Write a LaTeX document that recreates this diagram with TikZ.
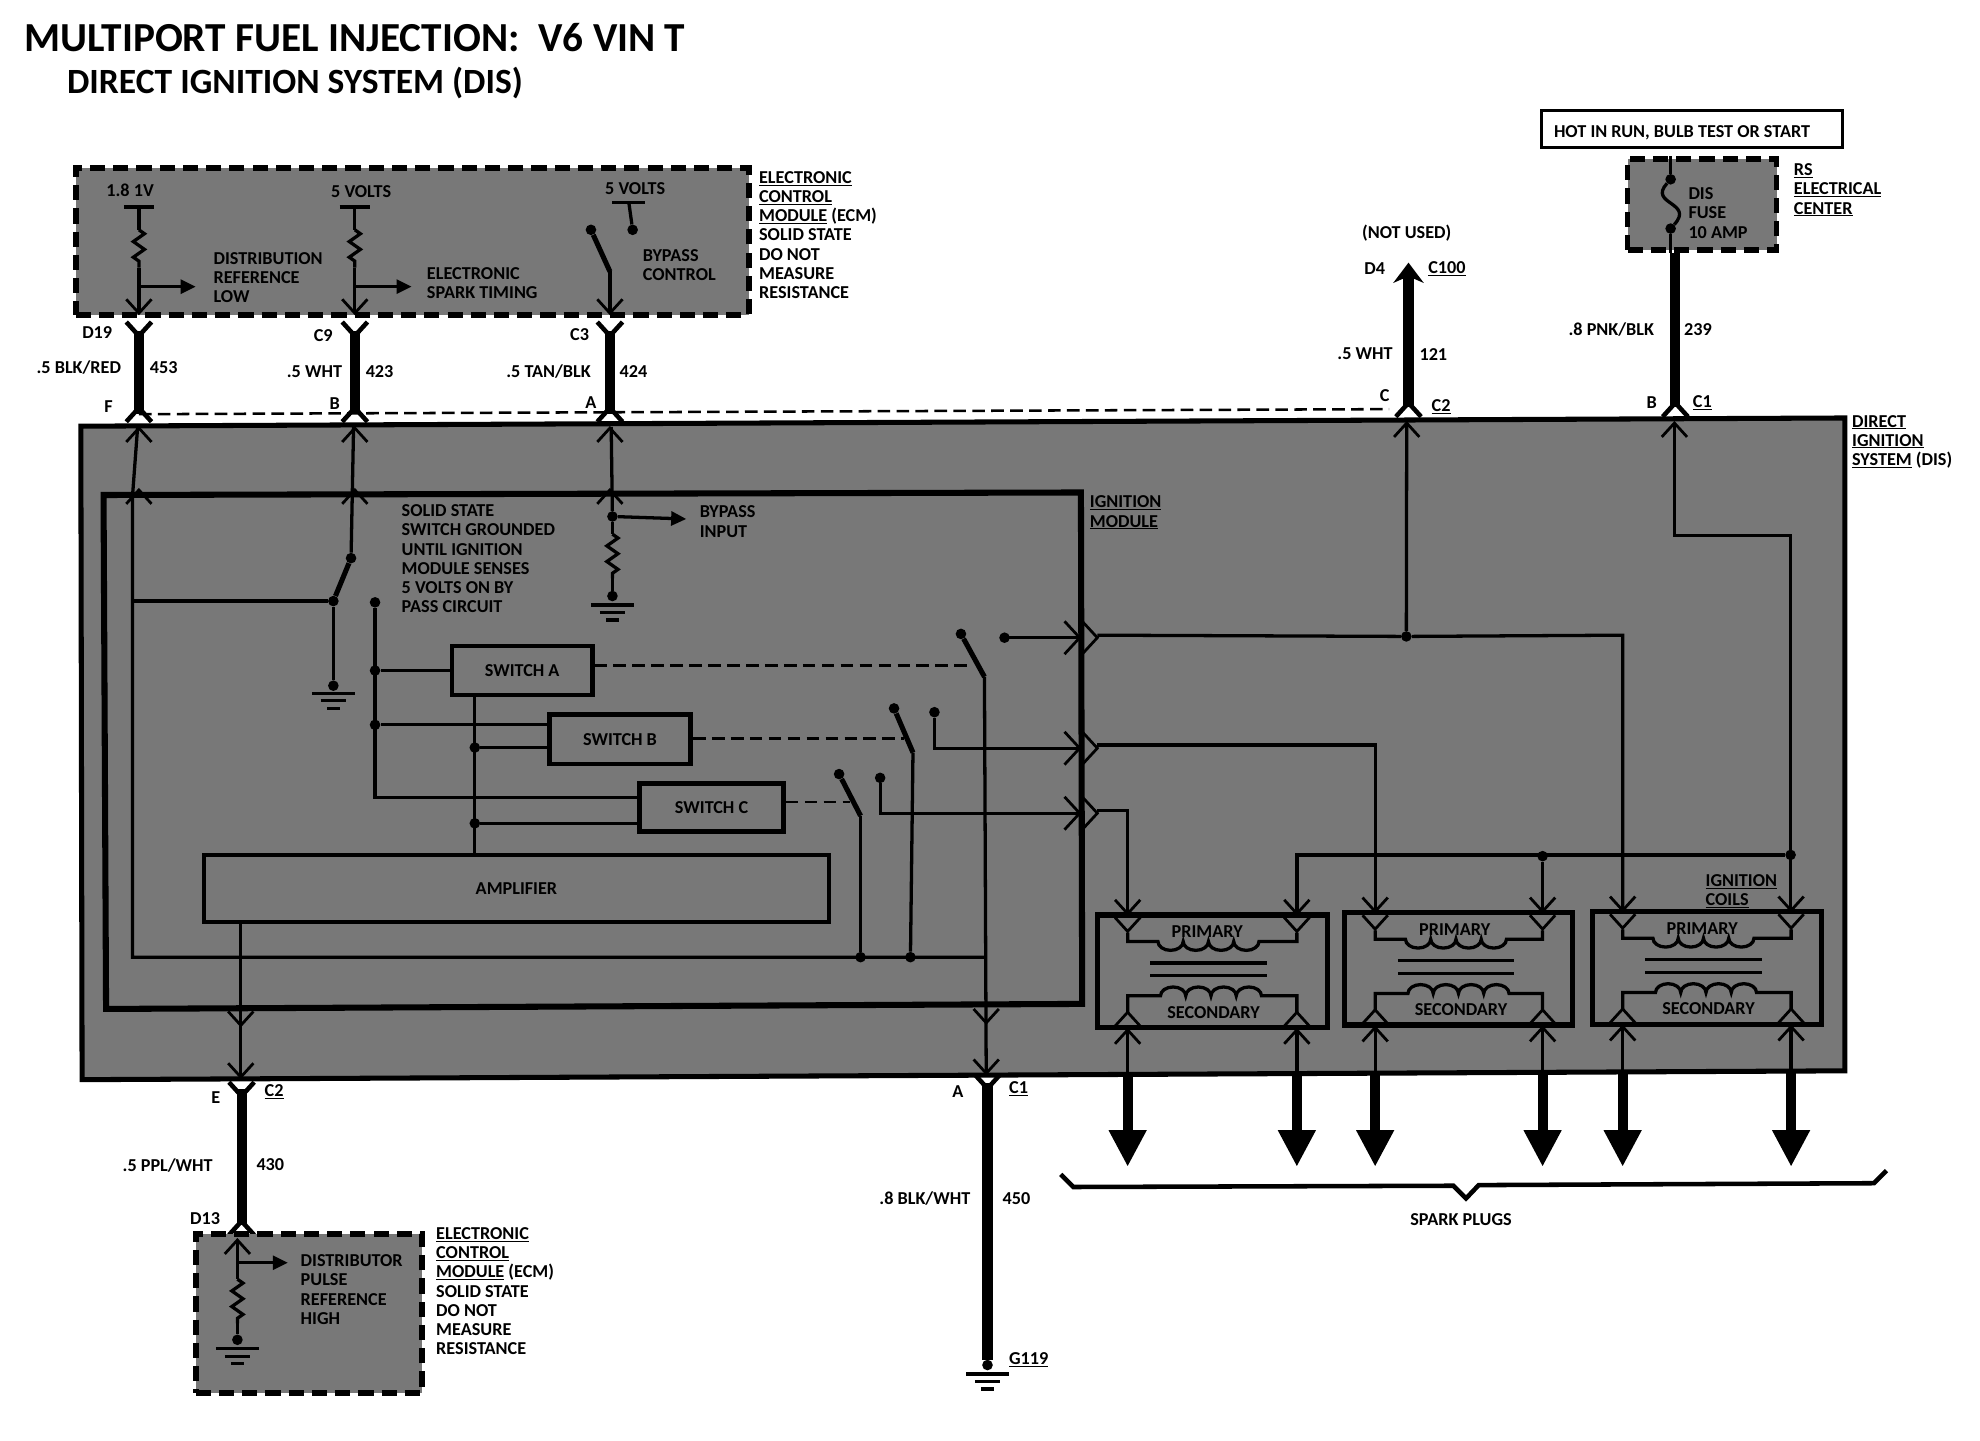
\documentclass[tikz,border=0pt]{standalone}
\usepackage{fontspec}
\setmainfont{Carlito}
\usetikzlibrary{arrows.meta,decorations.pathmorphing}

\definecolor{halftone}{gray}{0.47}

\tikzset{
  wire/.style={line width=.13cm},
  heavy/.style={line width=.4cm},
  blade/.style={line width=.2cm},
  tipthin/.style={line width=.11cm},
  tipheavy/.style={line width=.18cm},
  thindash/.style={line width=.1cm, dash pattern=on .5cm off .25cm},
  dot/.style={circle, fill=black, inner sep=0pt, minimum size=.42cm},
  ecmbox/.style={draw, fill=halftone, line width=.22cm, dash pattern=on .6cm off .32cm, inner sep=0pt},
  logicbox/.style={draw, line width=.18cm, inner sep=0pt, font=\fontsize{20.5}{21.6}\selectfont\bfseries},
  lab/.style={anchor=west, inner sep=0pt, align=left, font=\fontsize{20.5}{21.6}\selectfont\bfseries},
  labblock/.style={lab, anchor=north west, yshift=-.08cm},
  resist/.style={decorate, decoration={zigzag, amplitude=.22cm, segment length=.62cm}},
  smallarrow/.style={wire, -{Triangle[length=.6cm,width=.55cm]}},
  sparkarrow/.style={heavy, -{Triangle[length=1.45cm,width=1.4cm]}},
}

\newcommand{\connup}[3][tipthin]{\draw[#1] (#2-10,#3+11) -- (#2,#3) -- (#2+10,#3+11);}
\newcommand{\conndown}[3][tipthin]{\draw[#1] (#2-10,#3-11) -- (#2,#3) -- (#2+10,#3-11);}
\newcommand{\connright}[2]{\draw[tipthin] (#1-12,#2-13) -- (#1,#2) -- (#1-12,#2+13);}
\newcommand{\groundsym}[2]{
  \draw[wire] (#1-17,#2) -- (#1+17,#2);
  \draw[wire] (#1-10,#2+6) -- (#1+10,#2+6);
  \draw[wire] (#1-5,#2+12) -- (#1+5,#2+12);
}

\begin{document}
\begin{tikzpicture}[x=.05cm, y=-.05cm]
\useasboundingbox (0,0) rectangle (1568,1140.4);

% title
\node[anchor=base west, inner sep=0pt, font=\fontsize{46.5}{52}\selectfont\bfseries] (title) at (19,41) {MULTIPORT FUEL INJECTION:\ \ V6 VIN T};
\node[anchor=base west, inner sep=0pt, font=\fontsize{40}{46}\selectfont\bfseries] (subtitle) at (53,74) {DIRECT IGNITION SYSTEM (DIS)};

% DIS box and module
\coordinate (disnw) at (64,337.5);
\coordinate (disne) at (1461,331);
\coordinate (disse) at (1461,848);
\coordinate (dissw) at (65,855);
\draw[fill=halftone, line width=.2cm] (disnw) -- (disne) -- (disse) -- (dissw) -- cycle;
\coordinate (modnw) at (82,392);
\coordinate (modne) at (856,390);
\coordinate (modse) at (857,795);
\coordinate (modsw) at (84,799);
\draw[line width=.24cm] (modnw) -- (modne) -- (modse) -- (modsw) -- cycle;

% ECM, top
\node[ecmbox, minimum width=26.65cm, minimum height=5.82cm] (ecmtop) at (326.5,191.2) {};
\node[labblock] (ecmtoptxt) at (601,134) {\underline{ELECTRONIC}\\\underline{CONTROL}\\\underline{MODULE} (ECM)\\SOLID STATE\\DO NOT\\MEASURE\\RESISTANCE};
\node[lab, anchor=center] (v18) at (103,151) {1.8 1V};
\node[lab, anchor=center] (v5a) at (286,152) {5 VOLTS};
\node[lab, anchor=center] (v5b) at (503,149) {5 VOLTS};
\node[labblock] (distref) at (169,198) {DISTRIBUTION\\REFERENCE\\LOW};
\node[labblock] (esttxt) at (338,210) {ELECTRONIC\\SPARK TIMING};
\node[labblock] (bypctl) at (509,196) {BYPASS\\CONTROL};

\foreach \x in {110,281} {
  \draw[wire] (\x-12,164) -- (\x+12,164);
  \draw[wire] (\x,164) -- (\x,182);
  \draw[wire, resist] (\x,182) -- (\x,212);
  \draw[wire] (\x,212) -- (\x,248);
  \conndown{\x}{248}
  \draw[smallarrow] (\x,227) -- (\x+45,227);
}
% bypass switch in ECM
\coordinate (ctop) at (498,160.5);
\node[dot] (ccontact) at (501,182) {};
\node[dot] (cblade) at (468,182) {};
\coordinate (cpivot) at (483,215);
\draw[wire] (485,160.5) -- (511,160.5);
\draw[wire] (ctop) -- (ccontact);
\draw[blade] (cblade) -- (cpivot);
\draw[wire] (cpivot) -- (483,248);
\conndown{483}{248}

% wires between ECM and DIS
\foreach \n/\x in {f/110,b/281,a/483} {
  \coordinate (top\n) at (\x,262);
  \coordinate (bot\n) at (\x,328);
  \draw[heavy] (top\n) -- (bot\n);
  \conndown[tipheavy]{\x}{266}
  \connup[tipheavy]{\x}{323}
  \connup{\x}{339}
  \connup{\x}{388}
}
\coordinate (cdash) at (1100,324);
\draw[thindash] (botf) -- (cdash);
\node[lab, anchor=center] (d19) at (77,263) {D19};
\node[lab, anchor=center] (c9) at (256,266) {C9};
\node[lab, anchor=center] (c3) at (459,265) {C3};
\node[lab, anchor=east] (w453a) at (96,291) {.5 BLK/RED};
\node[lab] (w453b) at (118.5,291) {453};
\node[lab, anchor=east] (w423a) at (271,294) {.5 WHT};
\node[lab] (w423b) at (289.5,294) {423};
\node[lab, anchor=east] (w424a) at (468,294.5) {.5 TAN/BLK};
\node[lab] (w424b) at (490.5,294.5) {424};
\node[lab, anchor=center] (pinf) at (86,322) {F};
\node[lab, anchor=center] (pinb) at (265,320) {B};
\node[lab, anchor=center] (pina) at (468,319) {A};

% fuse side
\node[draw, fill=white, line width=.12cm, minimum width=11.93cm, minimum height=1.45cm] (hotbox) at (1339.7,102) {};
\node[lab] (hottxt) at (1230.5,105) {HOT IN RUN, BULB TEST OR START};
\node[ecmbox, minimum width=5.9cm, minimum height=3.6cm] (rsbox) at (1348,162) {};
\node[labblock] (rstxt) at (1420.5,128) {\underline{RS}\\\underline{ELECTRICAL}\\\underline{CENTER}};
\node[labblock] (fusetxt) at (1337,147) {DIS\\FUSE\\10 AMP};
\node[dot] (fusea) at (1323,142) {};
\node[dot] (fuseb) at (1323,181) {};
\draw[wire] (rsbox.north -| fusea) -- (fusea);
\draw[wire] (fusea) .. controls (1305,162) and (1342,160) .. (fuseb);
\draw[wire] (fuseb) -- (rsbox.south -| fuseb);
\coordinate (f239) at (1326.7,322);
\draw[heavy] (rsbox.south -| f239) -- (f239);
\connup[tipheavy]{1326.7}{319}
\node[lab, anchor=east] (w239a) at (1310,261) {.8 PNK/BLK};
\node[lab] (w239b) at (1333.6,261) {239};
\node[lab, anchor=center] (pinb2) at (1308,319) {B};
\node[lab] (c1top) at (1340.5,319) {\underline{C1}};
\connup{1326}{335}

% not used wire
\coordinate (d4tip) at (1115.4,208);
\coordinate (c121) at (1115.4,322);
\draw[heavy, -{Stealth[length=.8cm,width=1.2cm]}] (c121) -- (d4tip);
\connup[tipheavy]{1115.4}{319}
\connup{1114}{335}
\node[lab, anchor=center] (notused) at (1114,185) {(NOT USED)};
\node[lab, anchor=center] (d4) at (1088.6,213) {D4};
\node[lab] (c100) at (1131,213) {\underline{C100}};
\node[lab, anchor=east] (w121a) at (1103,280.4) {.5 WHT};
\node[lab] (w121b) at (1124,280.4) {121};
\node[lab, anchor=center] (pinc) at (1096.5,313) {C};
\node[lab] (c2top) at (1133.6,322) {\underline{C2}};
\node[labblock] (distxt) at (1466.6,327) {\underline{DIRECT}\\\underline{IGNITION}\\\underline{SYSTEM} (DIS)};

% inside module, left
\node[labblock] (solidtxt) at (318,398) {SOLID STATE\\SWITCH GROUNDED\\UNTIL IGNITION\\MODULE SENSES\\5 VOLTS ON BY\\PASS CIRCUIT};
\node[labblock] (bypinp) at (554,399) {BYPASS\\INPUT};
\node[labblock] (igntxt) at (863,391) {\underline{IGNITION}\\\underline{MODULE}};

\coordinate (rail) at (105,758);
\node[dot] (gpivot) at (264,476) {};
\node[dot] (gcont1) at (278,442) {};
\node[dot] (gcont2) at (297,477) {};
\coordinate (railend) at (780,758);
\draw[wire] (109,338) -- (105,392) -- (rail) -- (railend);
\draw[wire] (105,476) -- (gpivot);
\draw[wire] (280,338) -- (gcont1);
\draw[blade] (gcont1) -- (gpivot);
\node[dot] (gnd1) at (264,543) {};
\draw[wire] (gpivot) -- (gnd1);
\groundsym{264}{549}

% bypass input
\node[dot] (bypa) at (485,409) {};
\node[dot] (bypb) at (485,472) {};
\draw[wire] (484,338) -- (bypa);
\draw[smallarrow] (bypa) -- (543.5,411);
\draw[wire] (bypa) -- (485,423);
\draw[wire, resist] (485,423) -- (485,458);
\draw[wire] (485,458) -- (bypb);
\groundsym{485}{479}

% switches and amplifier
\node[logicbox, minimum width=5.55cm, minimum height=1.93cm] (swa) at (413.5,531) {SWITCH A};
\node[logicbox, minimum width=5.6cm, minimum height=1.95cm] (swb) at (491,585.5) {SWITCH B};
\node[logicbox, minimum width=5.7cm, minimum height=1.9cm] (swc) at (563.5,639.5) {SWITCH C};
\node[logicbox, minimum width=24.75cm, minimum height=2.65cm] (amp) at (409,703.5) {AMPLIFIER};

\coordinate (busc) at (297,631.6);
\node[dot] (busa) at (297,531) {};
\node[dot] (busb) at (297,574) {};
\node[dot] (ampa) at (376,592) {};
\node[dot] (ampb) at (376,652) {};
\draw[wire] (gcont2) -- (busc) -- (busc -| swc.west);
\draw[wire] (busa) -- (swa.west);
\draw[wire] (busb) -- (busb -| swb.west);
\draw[wire] (swa.south -| ampa) -- (amp.north -| ampa);
\draw[wire] (ampa) -- (ampa -| swb.west);
\draw[wire] (ampb) -- (ampb -| swc.west);

% output transistors: name/blade top/pivot/contact/output height
\foreach \n/\xb/\yb/\xp/\yp/\xc/\yo in {a/761/502/779.6/536/795.5/505,b/708/561/723/596/740/592.5,c/664.5/613/681.5/646/697/644} {
  \node[dot] (blt\n) at (\xb,\yb) {};
  \coordinate (piv\n) at (\xp,\yp);
  \node[dot] (con\n) at (\xc,\yb+3) {};
  \coordinate (out\n) at (854,\yo);
  \draw[blade] (blt\n) -- (piv\n);
  \draw[wire] (con\n) -- (\xc,\yo) -- (out\n);
  \connright{855}{\yo}
  \connright{869}{\yo}
}
\coordinate (dasha) at (770,527);
\coordinate (dashb) at (716,585);
\coordinate (dashc) at (673,635);
\draw[thindash] (swa.east |- dasha) -- (dasha);
\draw[thindash] (swb.east |- dashb) -- (dashb);
\draw[thindash] (swc.east |- dashc) -- (dashc);

\node[dot] (railb) at (721,758) {};
\node[dot] (railc) at (681.5,758) {};
\draw[wire] (pivb) -- (railb);
\draw[wire] (pivc) -- (railc);

% ground side
\coordinate (gndout) at (781,851);
\draw[wire] (piva) -- (gndout);
\conndown{781}{810}
\conndown{781}{850}
\coordinate (ampout) at (190.7,853);
\draw[wire] (amp.south -| ampout) -- (ampout);
\conndown{190.7}{812}
\conndown{190.7}{853}

% lower wires
\coordinate (etop) at (191.3,862);
\coordinate (ebot) at (191.3,970);
\draw[heavy] (etop) -- (ebot);
\conndown[tipheavy]{191.3}{868}
\connup[tipheavy]{191.3}{967}
\node[lab, anchor=center] (pine) at (171,869) {E};
\node[lab] (c2bot) at (209.5,864.5) {\underline{C2}};
\node[lab, anchor=east] (w430a) at (168.6,922.6) {.5 PPL/WHT};
\node[lab] (w430b) at (203,922.6) {430};
\node[lab, anchor=center] (d13) at (162.5,965) {D13};

\node[ecmbox, minimum width=8.95cm, minimum height=6.3cm] (ecmbot) at (244.5,1040) {};
\node[labblock] (ecmbottxt) at (345.3,970.5) {\underline{ELECTRONIC}\\\underline{CONTROL}\\\underline{MODULE} (ECM)\\SOLID STATE\\DO NOT\\MEASURE\\RESISTANCE};
\node[labblock] (pulsetxt) at (238,992) {DISTRIBUTOR\\PULSE\\REFERENCE\\HIGH};
\connup{188}{982}
\node[dot] (ecmgnd) at (188,1061) {};
\draw[wire] (188,982) -- (188,1013);
\draw[wire, resist] (188,1013) -- (188,1048);
\draw[wire] (188,1048) -- (ecmgnd);
\draw[smallarrow] (188,1000) -- (228,1000);
\groundsym{188}{1068}

\coordinate (atop) at (782,858);
\node[dot] (g119dot) at (782,1081) {};
\draw[heavy] (atop) -- (g119dot);
\conndown[tipheavy]{782}{862}
\groundsym{782}{1088}
\node[lab, anchor=center] (pina2) at (758.5,864.5) {A};
\node[lab] (c1bot) at (799,862) {\underline{C1}};
\node[lab, anchor=east] (w450a) at (768.5,949) {.8 BLK/WHT};
\node[lab] (w450b) at (793.8,949) {450};
\node[lab] (g119) at (799,1076.5) {\underline{G119}};

% coils
\foreach \n/\xl/\xr/\yt/\yb in {a/869/1051/724.6/813.6,b/1065/1245.6/722.8/811.7,c/1261/1442.4/722/811} {
  \draw[line width=.2cm] (\xl,\yt) rectangle (\xr,\yb);
  \coordinate (pl\n) at (\xl+24,\yt+21);
  \coordinate (pr\n) at (\xr-24,\yt+21);
  \coordinate (sl\n) at (\xl+24,\yb-25);
  \coordinate (sr\n) at (\xr-24,\yb-25);
  \draw[wire] (\xl+24,\yt+14) -- (pl\n) -- (\xl+48,\yt+21)
    \foreach \k in {1,...,4} {arc[start angle=180, end angle=0, x radius=10, y radius=7]}
    -- (pr\n) -- (\xr-24,\yt+14);
  \draw[wire] (\xl+24,\yb-12) -- (sl\n) -- (\xl+50,\yb-25)
    \foreach \k in {1,...,4} {arc[start angle=180, end angle=360, x radius=10, y radius=7]}
    -- (sr\n) -- (\xr-24,\yb-12);
  \draw[wire] (\xl+42,\yt+38) -- (\xl+134,\yt+38);
  \draw[wire] (\xl+42,\yt+48) -- (\xl+134,\yt+48);
  \node[lab, anchor=center] (prim\n) at (\xl+87,\yt+13) {PRIMARY};
  \node[lab, anchor=center] (sec\n) at (\xl+92,\yb-12) {SECONDARY};
  \foreach \s in {\xl+24,\xr-24} {
    \conndown{\s}{\yt+13}
    \conndown{\s}{\yt-1}
    \connup{\s}{\yb-12}
    \connup{\s}{\yb+2}
  }
  \coordinate (pll\n) at (\xl+24,\yb);
  \coordinate (prr\n) at (\xr-24,\yb);
  \draw[wire] (pll\n) -- (\xl+24,850);
  \draw[wire] (prr\n) -- (\xr-24,850);
  \draw[sparkarrow] (\xl+24,849) -- (\xl+24,924);
  \draw[sparkarrow] (\xr-24,849) -- (\xr-24,924);
}

% outputs to coils
\node[dot] (j121) at (1113.7,504) {};
\draw[wire] (1114,335) -- (j121);
\draw[wire] (869,503) -- (j121) -- (1285,503) -- (1285,722);
\draw[wire] (869,590) -- (1089,590) -- (1089,722);
\draw[wire] (869,642) -- (893,642) -- (893,724);
\node[dot] (jfeed) at (1418,677) {};
\node[dot] (jcoilb) at (1221.6,678) {};
\draw[wire] (1326,335) -- (1326,424) -- (1418,424) -- (1418,722);
\draw[wire] (jfeed) -- (1027,677) -- (1027,724);
\draw[wire] (jcoilb) -- (1221.6,722);
\node[labblock] (coilstxt) at (1350.6,691) {\underline{IGNITION}\\\underline{COILS}};

% spark plug brace
\coordinate (bra) at (840,930);
\coordinate (brb) at (850,940);
\coordinate (brc) at (1151,939);
\coordinate (brd) at (1161,949);
\coordinate (bre) at (1171,938.5);
\coordinate (brf) at (1484,937);
\coordinate (brg) at (1494,927);
\draw[tipheavy] (bra) -- (brb) -- (brc) -- (brd) -- (bre) -- (brf) -- (brg);
\node[lab, anchor=center] (plugs) at (1157,965.6) {SPARK PLUGS};
\end{tikzpicture}
\end{document}
